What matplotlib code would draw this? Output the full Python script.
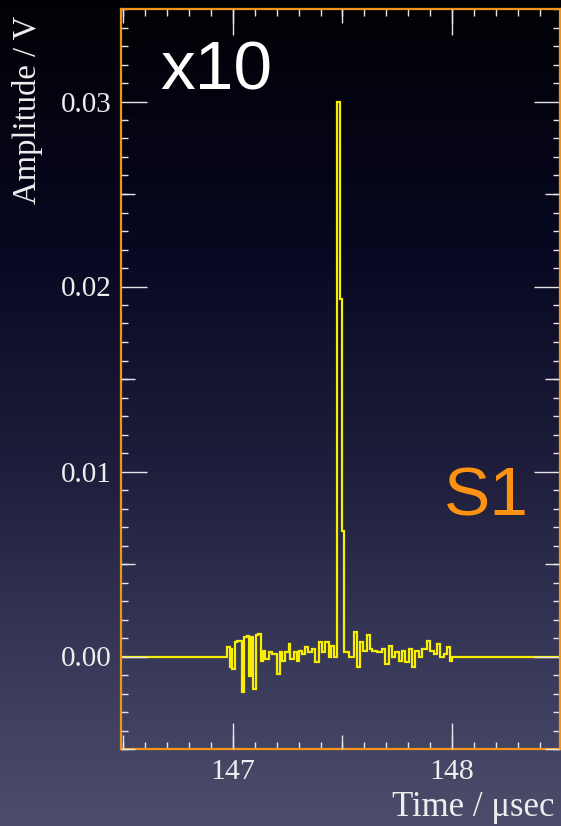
import numpy as np
import matplotlib.pyplot as plt
from matplotlib.colors import LinearSegmentedColormap
from matplotlib.ticker import MultipleLocator, FixedLocator, NullFormatter

# step edges (µs) and amplitudes (V)
edges = [146.40, 146.973, 146.985, 146.991, 146.998, 147.0105, 147.018, 147.041,
         147.053, 147.064, 147.076, 147.082, 147.091, 147.106, 147.117, 147.128,
         147.137, 147.147, 147.163, 147.178, 147.201, 147.216, 147.224, 147.239,
         147.254, 147.262, 147.277, 147.292, 147.304, 147.315, 147.330, 147.341,
         147.361, 147.376, 147.391, 147.406, 147.421, 147.437, 147.447, 147.460,
         147.475, 147.487, 147.498, 147.508, 147.528, 147.554, 147.566, 147.578,
         147.596, 147.612, 147.627, 147.635, 147.657, 147.680, 147.695, 147.711,
         147.726, 147.741, 147.756, 147.772, 147.787, 147.802, 147.817, 147.832,
         147.848, 147.863, 147.886, 147.901, 147.916, 147.931, 147.947, 147.962,
         147.977, 147.992, 148.000, 148.60]
amps = [0.0, 0.00049, -0.00059, 0.00040, -0.00068, 0.00076, 0.00085, -0.00194,
        0.00103, 0.00112, -0.00104, 0.00108, -0.00176, 0.00115, 0.00121, -0.00023,
        0.00031, -0.00014, 0.00025, 0.00013, -0.00095, 0.00022, -0.00023, 0.00025,
        0.00067, -0.00014, 0.00022, -0.00023, 0.00031, 0.00013, 0.00049, 0.00022,
        0.00040, -0.00032, 0.00076, 0.00022, 0.00076, -0.00005, 0.00058, -0.00005,
        0.0300, 0.0193, 0.0068, 0.00022, -0.00005, 0.00130, -0.00059, 0.00076,
        0.00031, 0.00115, 0.00040, 0.00031, 0.00022, 0.00040, -0.00041, 0.00058,
        -0.00005, 0.00022, -0.00023, 0.00031, -0.00032, 0.00040, -0.00059, 0.00031,
        -0.00005, 0.00040, 0.00085, 0.00031, 0.00013, 0.00067, -0.00005, 0.00013,
        0.00049, -0.00023, 0.0]

xlim = (146.49, 148.49)
ylim = (-0.005, 0.035)
yticks = [0.00, 0.01, 0.02, 0.03]
xticks = [147, 148]

fig = plt.figure(figsize=(5.61, 8.26), dpi=100)

# background gradient (black at top -> slate at bottom)
bg = fig.add_axes([0, 0, 1, 1], zorder=-5)
cmap = LinearSegmentedColormap.from_list('bg', [
    (0.00, (0.005, 0.005, 0.02)),
    (0.30, (0.03, 0.03, 0.13)),
    (0.60, (0.13, 0.13, 0.25)),
    (0.80, (0.22, 0.22, 0.35)),
    (1.00, (0.30, 0.30, 0.42))])
bg.imshow(np.linspace(0, 1, 256)[:, None], cmap=cmap, aspect='auto',
          extent=(0, 1, 0, 1))
bg.axis('off')

ax = fig.add_axes([121/561, 1-749/826, 438.5/561, 740/826])
ax.set_facecolor('none')
ax.stairs(amps, edges, baseline=None, color='#f7ee00', lw=1.6)
ax.set_xlim(xlim); ax.set_ylim(ylim)

for s in ax.spines.values():
    s.set_color('#f39318'); s.set_linewidth(1.6)

# medium ticks at the half divisions
axm = ax.twiny()
axm.set_xlim(xlim)
axm.xaxis.set_ticks_position('both')
axm.xaxis.set_major_locator(MultipleLocator(0.5))
axm.xaxis.set_major_formatter(NullFormatter())
axm.xaxis.set_minor_locator(FixedLocator([]))
axm.tick_params(axis='x', which='major', direction='in', length=10, width=1.0,
                color='#e6e6e6', bottom=True, top=True)
axn = ax.twinx()
axn.set_ylim(ylim)
axn.yaxis.set_ticks_position('both')
axn.yaxis.set_major_locator(FixedLocator([-0.005, 0.005, 0.015, 0.025]))
axn.yaxis.set_major_formatter(NullFormatter())
axn.yaxis.set_minor_locator(FixedLocator([]))
axn.tick_params(axis='y', which='major', direction='in', length=10, width=1.0,
                color='#e6e6e6', left=True, right=True)
for a in (axm, axn):
    for s in a.spines.values():
        s.set_visible(False)

ax.xaxis.set_major_locator(FixedLocator(xticks))
ax.xaxis.set_minor_locator(MultipleLocator(0.1))
ax.yaxis.set_major_locator(FixedLocator(yticks))
ax.yaxis.set_minor_locator(MultipleLocator(0.001))
ax.tick_params(which='both', direction='in', top=True, right=True,
               bottom=True, left=True, color='#e6e6e6', labelcolor='#eeeeee')
ax.tick_params(which='major', length=19, width=1.0, pad=7)
ax.tick_params(which='minor', length=5, width=1.0)
ax.set_yticklabels(['0.00', '0.01', '0.02', '0.03'], family='Liberation Serif', fontsize=21)
ax.set_xticklabels(['147', '148'], family='Liberation Serif', fontsize=21.5)

fig.text(28/561, 1-110/826, 'Amplitude / V', rotation=90, ha='center', va='center',
         family='Liberation Serif', fontsize=23.5, color='#eeeeee')
fig.text(555/561, 1-807/826, 'Time / μsec', ha='right', va='center',
         family='Liberation Serif', fontsize=25, color='#eeeeee')
fig.text(160/561, 1-89/826, 'x10', ha='left', va='baseline',
         family='Liberation Sans', fontsize=50, color='white')
fig.text(444/561, 1-515/826, 'S1', ha='left', va='baseline',
         family='Liberation Sans', fontsize=50, color='#ff9210')

fig.savefig('out.png', dpi=100)
